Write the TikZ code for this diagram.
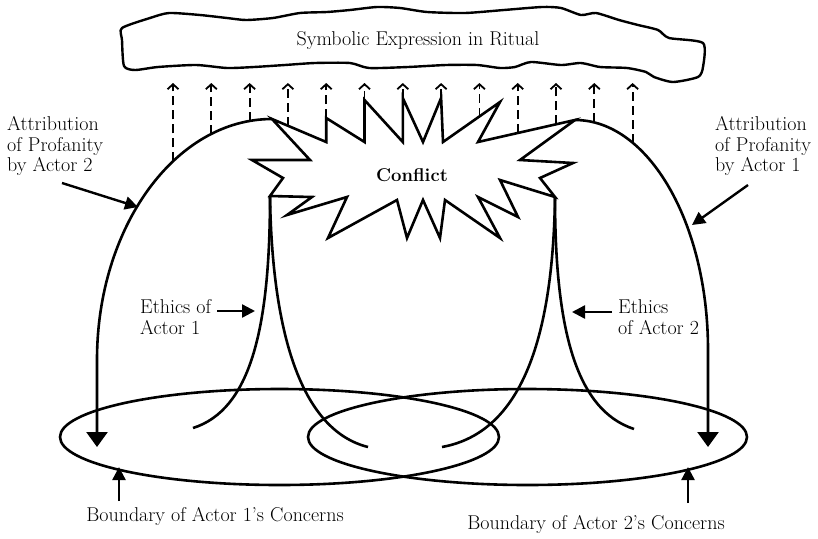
\documentclass[tikz,border=0pt]{standalone}
\usepackage{fontspec}
\usetikzlibrary{arrows.meta,positioning,calc}
\begin{document}
\begin{tikzpicture}[x=1pt, y=-1pt,
    lbl/.style={font=\fontsize{20}{20.5}\selectfont, align=left, inner sep=0pt},
    heavy/.style={line width=2.6pt},
    archarr/.style={heavy, -{Triangle[length=15pt, width=21pt]}},
    ptrarr/.style={line width=2.4pt, -{Triangle[length=13pt, width=13pt]}},
    riseto/.style={line width=1.8pt, dash pattern=on 9pt off 5pt,
        -{Straight Barb[length=5pt, width=11pt, line width=1.8pt]}}]
  \useasboundingbox (0,0) rectangle (818,538);

  % ritual cloud
  \draw[line width=2.4pt, line join=round] plot[smooth cycle, tension=0.4] coordinates {
    (122,28) (150,18) (169,13) (200,15) (227,18) (246,20) (273,18) (300,13)
    (327,12) (350,10) (377,7) (400,8) (427,12) (465,13) (504,10) (542,7)
    (561,8) (581,15) (596,13) (619,20) (638,25) (658,30) (669,38) (703,43)
    (703,67) (698,77) (673,82) (654,77) (646,72) (627,68) (600,67) (581,63)
    (561,65) (531,62) (515,67) (500,68) (477,65) (446,65) (408,67) (369,68)
    (350,63) (315,63) (285,65) (254,67) (227,68) (196,65) (158,67) (135,70)
    (124,66) (122,40)};
  \node[lbl, anchor=base] (ritual) at (418,45) {Symbolic Expression in Ritual};

  % dashed rises
  \foreach \x/\y [count=\i] in {173/161.3, 211.3/134, 249.6/121, 287.9/125.7,
      326.2/118, 364.5/100, 402.8/98, 441.1/98, 479.4/116.5, 517.7/133,
      556/124.3, 594.3/122.4, 632.6/142.7} {
    \coordinate (rlo\i) at (\x,\y);
    \coordinate (rhi\i) at (\x,83);
    \draw[riseto] (rlo\i) -- (rhi\i);
  }

  % attribution arches
  \coordinate (topL) at (272,119);
  \coordinate (topR) at (575,120);
  \coordinate (dropL) at (97,447);
  \coordinate (dropR) at (708,447);
  \draw[archarr] (topL) .. controls (175.4,119) and (97,227) .. (97,360) -- (dropL);
  \draw[archarr] (topR) .. controls (648.4,120) and (708,223) .. (708,350) -- (dropR);

  % conflict burst
  \draw[heavy, fill=white, line join=miter] (topL) -- (326.2,142) -- (326.2,118)
    -- (364.5,142) -- (364.5,100) -- (402.8,142) -- (402.8,98) -- (423,142)
    -- (441.1,98) -- (443,142) -- (500,102) -- (478,142) -- (topR)
    -- (520,160) -- (573,163) -- (540,178) -- (555,197) -- (500,180)
    -- (518,217) -- (478,197) -- (500,238) -- (445,200) -- (440,238)
    -- (423,200) -- (407,238) -- (397,200) -- (328,238) -- (347,197)
    -- (287,215) -- (312,197) -- (270,196) -- (283,178) -- (252,160)
    -- (310,160) -- cycle;
  \node[font=\fontsize{18.5}{20}\selectfont\bfseries, anchor=base] (conflict) at (412,181) {Conflict};

  % ethics
  \coordinate (footL) at (270,196);
  \coordinate (footR) at (555,197);
  \draw[heavy] (footL) .. controls (270,330) and (250,410) .. (193,428);
  \draw[heavy] (footL) .. controls (272,330) and (300,430) .. (368,447);
  \draw[heavy] (footR) .. controls (555,330) and (576,410) .. (634,429);
  \draw[heavy] (footR) .. controls (553,330) and (525,432) .. (442,447);

  % boundaries
  \draw[heavy] (279.5,437) ellipse [x radius=219.5pt, y radius=48pt];
  \draw[heavy] (527.5,437) ellipse [x radius=219.5pt, y radius=48pt];

  % labels
  \node[lbl, anchor=north west] (attL) at (7,116.5) {Attribution\\of Profanity\\by Actor 2};
  \node[lbl, anchor=north west] (attR) at (715,116.5) {Attribution\\of Profanity\\by Actor 1};
  \node[lbl, anchor=north west] (ethL) at (140,299.5) {Ethics of\\Actor 1};
  \node[lbl, anchor=north west] (ethR) at (618,299.5) {Ethics\\of Actor 2};
  \node[lbl, anchor=base] (bndL) at (215,521) {Boundary of Actor 1{'}s Concerns};
  \node[lbl, anchor=base] (bndR) at (596,529) {Boundary of Actor 2{'}s Concerns};

  % pointers
  \coordinate (attLtail) at (62,183);
  \coordinate (attLtip) at (138,207);
  \coordinate (attRtail) at (748,185);
  \coordinate (attRtip) at (692,225);
  \coordinate (ethLtail) at (217,311);
  \coordinate (ethLtip) at (255,311);
  \coordinate (ethRtail) at (612,312);
  \coordinate (ethRtip) at (572,312);
  \coordinate (bndLtail) at (119,501);
  \coordinate (bndLtip) at (119,467);
  \coordinate (bndRtail) at (688,503);
  \coordinate (bndRtip) at (688,467);
  \draw[ptrarr] (attLtail) -- (attLtip);
  \draw[ptrarr] (attRtail) -- (attRtip);
  \draw[ptrarr] (ethLtail) -- (ethLtip);
  \draw[ptrarr] (ethRtail) -- (ethRtip);
  \draw[ptrarr] (bndLtail) -- (bndLtip);
  \draw[ptrarr] (bndRtail) -- (bndRtip);
\end{tikzpicture}
\end{document}
